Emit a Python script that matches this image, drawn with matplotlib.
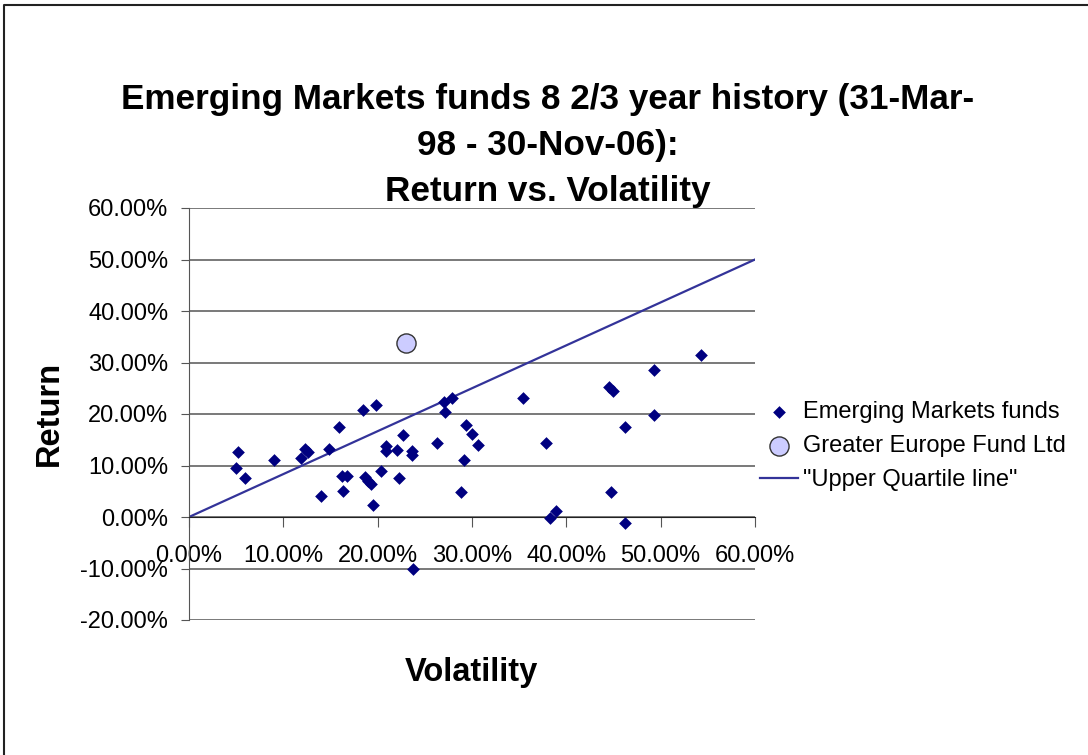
import matplotlib
matplotlib.use("Agg")
import matplotlib.pyplot as plt
from matplotlib.ticker import PercentFormatter, MultipleLocator
from matplotlib.lines import Line2D

plt.rcParams['font.family'] = ['Liberation Sans', 'DejaVu Sans']
plt.rcParams['axes.unicode_minus'] = False

# --- Data (volatility, return) in percent ---
em_vol = [5.2, 5.0, 5.9, 9.0, 11.9, 12.3, 12.6, 14.0, 14.8, 15.9,
          16.2, 16.3, 16.8, 18.4, 18.7, 19.0, 19.3, 19.5, 19.8, 20.4,
          20.9, 20.9, 22.1, 22.3, 22.7, 23.6, 23.6, 23.7, 26.3, 27.0,
          27.1, 27.9, 28.8, 29.1, 29.4, 30.0, 30.6, 35.4, 37.8, 38.3,
          38.9, 44.5, 44.9, 44.7, 46.2, 46.2, 49.3, 49.3, 54.3]
em_ret = [12.7, 9.6, 7.6, 11.0, 11.4, 13.3, 12.7, 4.1, 13.3, 17.5,
          8.0, 5.1, 8.0, 20.8, 7.8, 6.9, 6.5, 2.4, 21.8, 9.0,
          13.7, 12.9, 13.1, 7.6, 15.9, 12.9, 12.0, -10.0, 14.3, 22.4,
          20.4, 23.1, 4.9, 11.0, 17.8, 16.1, 13.9, 23.1, 14.3, -0.2,
          1.2, 25.3, 24.5, 4.9, 17.5, -1.2, 19.8, 28.6, 31.4]

ge_vol = [23.0]
ge_ret = [33.7]

uq_vol = [0.0, 60.0]
uq_ret = [0.0, 50.0]

title = ("Emerging Markets funds 8 2/3 year history (31-Mar-\n"
         "98 - 30-Nov-06):\nReturn vs. Volatility")

fig = plt.figure(figsize=(10.88, 7.55), dpi=100)
ax = fig.add_axes([189 / 1088, 1 - 620 / 755, (755 - 189) / 1088, (620 - 208) / 755])

# chart area border (only left and top edges are inside the picture)
fig.lines.append(Line2D([4 / 1088, 4 / 1088, 1.0], [0.0, 1 - 5 / 755, 1 - 5 / 755],
                        transform=fig.transFigure, color='#222222', linewidth=1.5))

ax.set_xlim(0, 60)
ax.set_ylim(-20, 60)
ax.yaxis.set_major_locator(MultipleLocator(10))
ax.xaxis.set_major_locator(MultipleLocator(10))
ax.xaxis.set_major_formatter(PercentFormatter(100, decimals=2))
ax.yaxis.set_major_formatter(PercentFormatter(100, decimals=2))

ax.grid(axis='y', color='#555555', linewidth=1.1)
ax.set_axisbelow(True)
ax.spines['top'].set_visible(False)
ax.spines['right'].set_visible(False)
ax.spines['bottom'].set_position(('data', 0))
ax.spines['left'].set_color('#555555')
ax.spines['bottom'].set_color('#222222')
ax.tick_params(axis='x', direction='out', length=7, pad=13, labelsize=17, color='#555555')
ax.tick_params(axis='y', direction='out', length=6, pad=9, labelsize=17, color='#555555')

ax.plot(uq_vol, uq_ret, color='#333399', linewidth=1.6, label='"Upper Quartile line"', zorder=2)
ax.scatter(em_vol, em_ret, marker='D', s=42, color='#000080', label='Emerging Markets funds',
           zorder=3, linewidths=0)
ax.scatter(ge_vol, ge_ret, marker='o', s=190, facecolor='#ccccff', edgecolor='#333333',
           linewidth=1, label='Greater Europe Fund Ltd', zorder=4)

handles, labels = ax.get_legend_handles_labels()
order = [1, 2, 0]
ax.legend([handles[i] for i in order], [labels[i] for i in order],
          loc='center left', bbox_to_anchor=(748 / 1088, 1 - 446 / 755),
          bbox_transform=fig.transFigure, frameon=False, fontsize=17,
          handlelength=1.6, handletextpad=0.25, labelspacing=0.5, borderpad=0)

ax.set_xlabel('Volatility', fontsize=23.5, fontweight='bold', labelpad=0)
ax.xaxis.set_label_coords(471 / 1088, 1 - 657 / 755, transform=fig.transFigure)
ax.set_ylabel('Return', fontsize=23.5, fontweight='bold')
ax.yaxis.set_label_coords(65 / 1088, 1 - 413 / 755, transform=fig.transFigure)

fig.text(548 / 1088, 1 - 146 / 755, title, ha='center', va='center', fontsize=25.3,
         fontweight='bold', linespacing=1.5)

fig.savefig('out.png', dpi=100)
